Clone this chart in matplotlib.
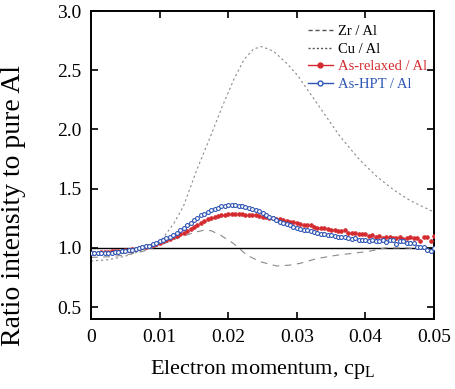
import numpy as np
import matplotlib.pyplot as plt
from matplotlib.ticker import FixedLocator
from matplotlib.lines import Line2D

plt.rcParams['font.family'] = ['Liberation Serif', 'DejaVu Serif']
plt.rcParams['mathtext.fontset'] = 'custom'
plt.rcParams['mathtext.rm'] = 'Liberation Serif'

# measured points, step 0.0005
x_meas = np.arange(101) * 0.0005

relaxed = [0.96, 0.96, 0.96, 0.965, 0.965, 0.965, 0.97, 0.97, 0.97, 0.975, 0.98,
           0.985, 0.99, 0.995, 1.0, 1.005, 1.01, 1.02, 1.025, 1.035, 1.045,
           1.055, 1.065, 1.075, 1.09, 1.10, 1.115, 1.13, 1.145, 1.16, 1.18,
           1.195, 1.21, 1.225, 1.24, 1.25, 1.26, 1.268, 1.275, 1.28, 1.283,
           1.285, 1.285, 1.285, 1.284, 1.282, 1.28, 1.278, 1.275, 1.27, 1.265,
           1.26, 1.255, 1.25, 1.245, 1.24, 1.235, 1.225, 1.22, 1.215, 1.21,
           1.2, 1.195, 1.19, 1.19, 1.18, 1.17, 1.17, 1.165, 1.16, 1.155,
           1.15, 1.145, 1.14, 1.15, 1.13, 1.125, 1.13, 1.12, 1.115, 1.12,
           1.1, 1.105, 1.095, 1.10, 1.085, 1.09, 1.095, 1.08, 1.085, 1.09,
           1.075, 1.08, 1.09, 1.085, 1.08, 1.06, 1.09, 1.09, 1.06, 1.10]

hpt = [0.955, 0.955, 0.955, 0.955, 0.96, 0.96, 0.96, 0.965, 0.965, 0.97, 0.975,
       0.98, 0.985, 0.99, 1.0, 1.005, 1.015, 1.02, 1.03, 1.04, 1.055,
       1.065, 1.08, 1.095, 1.11, 1.13, 1.15, 1.17, 1.19, 1.21, 1.235,
       1.255, 1.275, 1.29, 1.305, 1.32, 1.33, 1.34, 1.35, 1.355, 1.36,
       1.362, 1.36, 1.358, 1.354, 1.348, 1.34, 1.33, 1.32, 1.31, 1.295,
       1.28, 1.265, 1.25, 1.235, 1.22, 1.21, 1.20, 1.19, 1.18, 1.17,
       1.16, 1.155, 1.15, 1.14, 1.135, 1.13, 1.12, 1.12, 1.11, 1.105,
       1.10, 1.095, 1.09, 1.095, 1.08, 1.075, 1.08, 1.07, 1.065, 1.07,
       1.06, 1.065, 1.055, 1.06, 1.07, 1.05, 1.065, 1.07, 1.03, 1.06,
       1.055, 1.04, 1.045, 1.04, 1.01, 1.01, 1.01, 0.98, 0.97, 1.0]

# reference curves
x_zr = [0, 0.0025, 0.005, 0.0075, 0.01, 0.0125, 0.015, 0.0165, 0.0175, 0.0188,
        0.0207, 0.0227, 0.0246, 0.0271, 0.029, 0.0305, 0.0329, 0.036, 0.0404,
        0.0429, 0.046, 0.05]
zr = [0.92, 0.925, 0.94, 0.97, 1.02, 1.08, 1.13, 1.15, 1.145, 1.11,
      1.04, 0.94, 0.884, 0.847, 0.855, 0.87, 0.91, 0.94, 0.97,
      1.0, 1.0, 0.98]

x_cu = [0, 0.0025, 0.005, 0.0075, 0.0103, 0.012, 0.01346, 0.0154, 0.0174, 0.0191,
        0.0208, 0.0223, 0.0237, 0.0249, 0.0266, 0.0285, 0.0302, 0.0309, 0.0339,
        0.0363, 0.0392, 0.0417, 0.0441, 0.0465, 0.0499]
cu = [0.89, 0.9, 0.93, 0.98, 1.07, 1.2, 1.35, 1.657, 1.94, 2.19,
      2.42, 2.59, 2.68, 2.70, 2.66, 2.56, 2.45, 2.39, 2.14,
      1.94, 1.74, 1.60, 1.49, 1.40, 1.305]

red = '#d42a2f'
blue = '#2f55b4'

fig = plt.figure(figsize=(4.56, 3.89), dpi=100)
ax = fig.add_axes([0.1996, 0.18, 0.7524, 0.7917])

ax.axhline(1.0, color='black', lw=1.0, zorder=1)
ax.plot(x_zr, zr, ls=(0, (6, 5)), color='#8a8a8a', lw=0.8, label='Zr / Al')
ax.plot(x_cu, cu, ls=(0, (2, 2.5)), color='#8a8a8a', lw=0.8, label='Cu / Al')
ax.plot(x_meas, relaxed, 'o', color=red, ms=2.7, mec=red, mew=0.5,
        label='As-relaxed / Al', zorder=3)
ax.plot(x_meas, hpt, 'o', mfc='white', mec=blue, ms=2.8, mew=0.8,
        label='As-HPT / Al', zorder=4)

ax.set_xlim(0, 0.05)
ax.set_ylim(0.4, 3.0)
ax.xaxis.set_major_locator(FixedLocator([0, 0.01, 0.02, 0.03, 0.04, 0.05]))
ax.set_xticklabels(['0', '0.01', '0.02', '0.03', '0.04', '0.05'])
ax.yaxis.set_major_locator(FixedLocator([0.5, 1.0, 1.5, 2.0, 2.5, 3.0]))
ax.set_yticklabels(['0.5', '1.0', '1.5', '2.0', '2.5', '3.0'])
ax.tick_params(direction='in', top=True, right=True, length=5, width=1.2,
               labelsize=14, pad=7, colors='black')
for s in ax.spines.values():
    s.set_linewidth(1.4)

ax.set_xlabel(r'Electron momentum, cp$_\mathrm{L}$', fontsize=16, labelpad=9)
ax.set_ylabel('Ratio intensity to pure Al', fontsize=20)
ax.yaxis.set_label_coords(-0.19, 0.367)

# legend with line+marker handles
handles = [
    Line2D([], [], ls=(0, (3, 2)), color='#555555', lw=1.0),
    Line2D([], [], ls=(0, (1.5, 1.5)), color='#555555', lw=1.0),
    Line2D([], [], ls='-', color=red, marker='o', ms=3.5, lw=1.0),
    Line2D([], [], ls='-', color=blue, marker='o', mfc='white', ms=3.5, lw=1.0),
]
leg = ax.legend(handles, ['Zr / Al', 'Cu / Al', 'As-relaxed / Al', 'As-HPT / Al'],
                loc='upper right', bbox_to_anchor=(1.012, 0.99), frameon=False,
                fontsize=10.5, handlelength=1.75, handletextpad=0.35,
                labelspacing=0.3, borderaxespad=0.35)
for t, c in zip(leg.get_texts(), ['black', 'black', red, blue]):
    t.set_color(c)

fig.savefig('out.png', dpi=100)
